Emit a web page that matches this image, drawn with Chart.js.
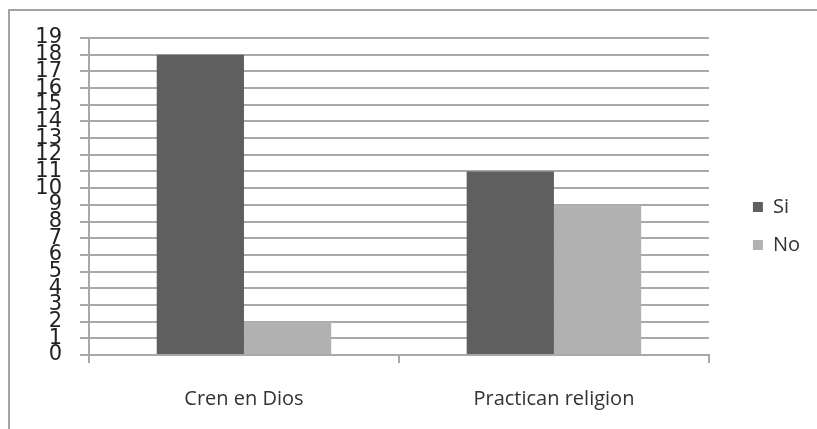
<!DOCTYPE html>
<html>
<head>
<meta charset="utf-8">
<script src="https://cdn.jsdelivr.net/npm/chart.js@4.4.1/dist/chart.umd.min.js"></script>
<style>
  body { margin: 0; background: #fff; }
  #wrap { position: relative; width: 817px; height: 429px; }
  #frame { position: absolute; left: 8px; top: 9px; right: 0; bottom: 0;
           border-top: 2px solid #a3a3a3; border-left: 2px solid #a3a3a3; pointer-events: none; }
</style>
</head>
<body>
<div id="wrap">
  <canvas id="chart" width="817" height="429"></canvas>
  <div id="frame"></div>
</div>
<script>
const categories = ["Cren en Dios", "Practican religion"];
const seriesNames = ["Si", "No"];
const siValues = [18, 11];
const noValues = [2, 9];
const yTicks = [0, 19, 1]; // min, max, step

const gridGray = '#a8a8a8';

const ctx = document.getElementById('chart').getContext('2d');
const chart = new Chart(ctx, {
  type: 'bar',
  data: {
    labels: categories,
    datasets: [{
      label: seriesNames[0],
      data: siValues,
      backgroundColor: '#5f5f5f',
      borderWidth: 0
    }, {
      label: seriesNames[1],
      data: noValues,
      backgroundColor: '#b1b1b1',
      borderWidth: 0
    }]
  },
  options: {
    responsive: false,
    animation: false,
    // top padding wins over the y label overhang (~31px)
    layout: { padding: { top: 38, bottom: 15, left: 0, right: 7 } },
    datasets: {
      bar: { categoryPercentage: 0.563, barPercentage: 1.0 }
    },
    plugins: {
      tooltip: { enabled: false },
      legend: {
        position: 'right',
        labels: {
          boxWidth: 10,
          boxHeight: 10,
          padding: 18,
          color: '#333',
          font: { family: "'Open Sans'", size: 20 }
        }
      }
    },
    scales: {
      x: {
        grid: {
          offset: true,
          drawOnChartArea: false,
          tickLength: 8,
          color: gridGray,
          lineWidth: 2
        },
        border: { color: gridGray, width: 2 },
        ticks: {
          padding: 24,
          color: '#333',
          font: { family: "'Open Sans'", size: 20 }
        },
        afterFit: (scale) => { scale.height = 59; }
      },
      y: {
        min: yTicks[0],
        max: yTicks[1],
        ticks: {
          stepSize: yTicks[2],
          autoSkip: false,
          padding: 18,
          color: '#222',
          font: { family: "'DejaVu Sans'", size: 21 }
        },
        grid: { color: gridGray, lineWidth: 2, tickLength: 9 },
        border: { color: gridGray, width: 2 },
        afterFit: (scale) => { scale.width = 89; }
      },
      y2: {
        position: 'right',
        grid: { display: false },
        border: { display: false },
        ticks: { display: false },
        afterFit: (scale) => { scale.width = 26; }
      }
    }
  }
});
</script>
</body>
</html>
